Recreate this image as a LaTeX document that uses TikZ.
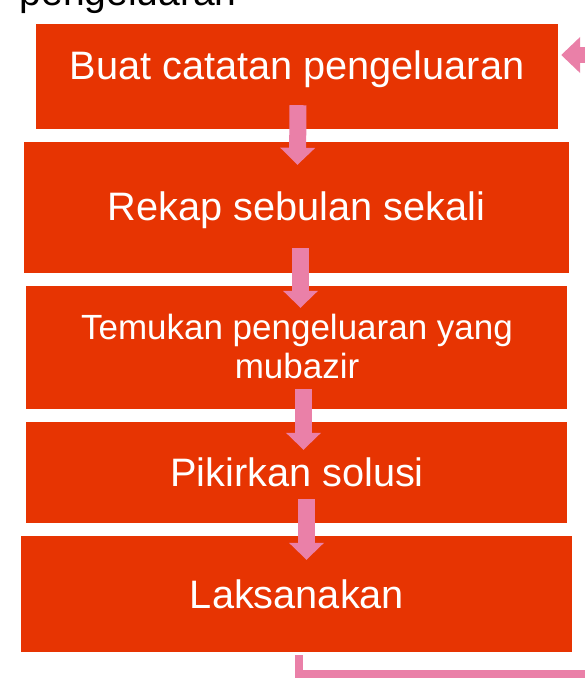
\documentclass[tikz,border=0pt]{standalone}
\usepackage{fontspec}
\setmainfont{Liberation Sans}
\usetikzlibrary{arrows.meta}
\definecolor{boxred}{RGB}{231,52,2}
\definecolor{arrowpink}{RGB}{234,128,168}
\tikzset{
  box/.style={fill=boxred, draw=none, inner sep=0pt},
  lbl/.style={text=white, inner sep=0pt, anchor=base, font=\fontsize{39.7}{46}\selectfont},
  lblsmall/.style={text=white, inner sep=0pt, anchor=base, align=center, font=\fontsize{35}{39}\selectfont},
  blockarrow/.style={draw=arrowpink, line width=17pt, -{Triangle[width=34pt,length=17pt]}},
  sidearrow/.style={draw=arrowpink, line width=16pt, -{Triangle[width=35pt,length=19pt]}},
  loopline/.style={draw=arrowpink, line width=8pt}
}
\begin{document}
\begin{tikzpicture}[x=1pt,y=-1pt]
\useasboundingbox (0,0) rectangle (585,689);
\clip (0,0) rectangle (585,689);
\fill[white] (0,0) rectangle (585,689);

% cut-off heading
\node[inner sep=0pt, anchor=base west, font=\fontsize{39}{46}\selectfont] (head) at (19.5,5) {pengeluaran};

% boxes
\node[box, minimum width=522pt, minimum height=105pt] (b1) at (297,76.5) {};
\node[box, minimum width=545pt, minimum height=131pt] (b2) at (296.5,207.5) {};
\node[box, minimum width=541pt, minimum height=123pt] (b3) at (296.5,347.5) {};
\node[box, minimum width=541pt, minimum height=101pt] (b4) at (296.5,472.5) {};
\node[box, minimum width=551pt, minimum height=116pt] (b5) at (296.5,594) {};

% labels
\node[lbl] (t1) at (297,79) {Buat catatan pengeluaran};
\node[lbl] (t2) at (296.5,220) {Rekap sebulan sekali};
\node[lblsmall] (t3) at (297,378) {Temukan pengeluaran yang\\mubazir};
\node[lbl] (t4) at (297,486) {Pikirkan solusi};
\node[lbl] (t5) at (297,608) {Laksanakan};

% downward arrows
\draw[blockarrow] ([xshift=1pt,yshift=24pt]b1.south) -- ([xshift=1pt,yshift=-23pt]b2.north);
\draw[blockarrow] ([xshift=4pt,yshift=25pt]b2.south) -- ([xshift=4pt,yshift=-22pt]b3.north);
\draw[blockarrow] ([xshift=7pt,yshift=20pt]b3.south) -- ([xshift=7pt,yshift=-28pt]b4.north);
\draw[blockarrow] ([xshift=10pt,yshift=24pt]b4.south) -- ([xshift=10pt,yshift=-24pt]b5.north);

% feedback loop ends
\coordinate (rin) at (610,55);
\draw[sidearrow] (rin) -- ([xshift=3pt,yshift=21.5pt]b1.east);
\coordinate (lout) at (610,674);
\draw[loopline] ([xshift=2.5pt,yshift=-3pt]b5.south) |- (lout);
\end{tikzpicture}
\end{document}
